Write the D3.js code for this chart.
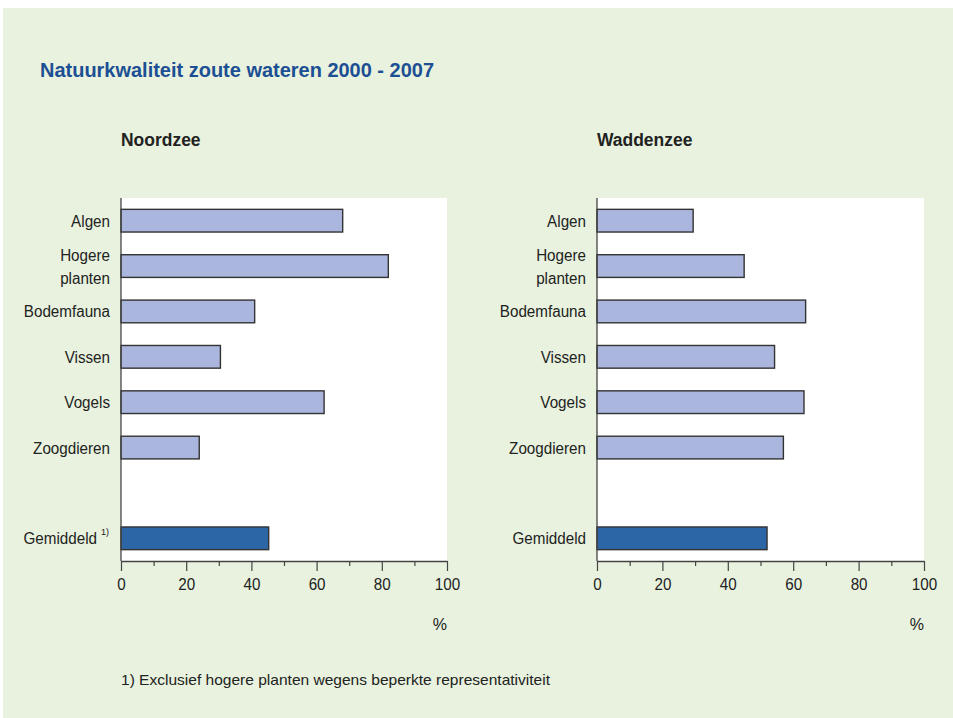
<!DOCTYPE html>
<html>
<head>
<meta charset="utf-8">
<script src="https://cdn.jsdelivr.net/npm/d3@7"></script>
<style>
html,body{margin:0;padding:0;background:#fff;}
svg{display:block;font-family:"Liberation Sans",Arial,sans-serif;}
</style>
</head>
<body>
<svg id="chart" width="953" height="718"></svg>
<script>
const title = "Natuurkwaliteit zoute wateren 2000 - 2007";
const categories = ["Algen", "Hogere planten", "Bodemfauna", "Vissen", "Vogels", "Zoogdieren", "", "Gemiddeld"];
const panelNames = ["Noordzee", "Waddenzee"];
const noordzee = [68, 82, 41, 30.5, 62.3, 24, null, 45.3];
const waddenzee = [29.4, 45, 63.8, 54.3, 63.3, 57, null, 52];
const xTicks = [0, 20, 40, 60, 80, 100];
const minorTicks = [10, 30, 50, 70, 90];
const footnote = "1) Exclusief hogere planten wegens beperkte representativiteit";

const svg = d3.select("#chart");
svg.append("rect").attr("x", 3).attr("y", 8).attr("width", 950).attr("height", 710).attr("fill", "#e8f2de");

svg.append("text").attr("x", 40).attr("y", 77).attr("fill", "#1c4f93")
  .attr("font-size", 20).attr("font-weight", "bold")
  .attr("textLength", 394).attr("lengthAdjust", "spacingAndGlyphs").text(title);

function condense(sel, f) {
  sel.each(function() {
    const len = this.getComputedTextLength();
    if (len > 0) d3.select(this).attr("textLength", len * f).attr("lengthAdjust", "spacingAndGlyphs");
  });
}

const panels = [
  {name: panelNames[0], values: noordzee, x0: 121, x1: 447, sup: true},
  {name: panelNames[1], values: waddenzee, x0: 597, x1: 924, sup: false}
];
const plotTop = 198, plotBottom = 561;

panels.forEach(p => {
  const g = svg.append("g");
  const x = d3.scaleLinear().domain([0, 100]).range([p.x0, p.x1]);
  const y = d3.scaleBand().domain(categories.map((c, i) => i)).range([plotTop, plotBottom]).paddingInner(0.5).paddingOuter(0.25);

  g.append("rect").attr("x", x(0)).attr("y", plotTop).attr("width", x(100) - x(0)).attr("height", plotBottom - plotTop).attr("fill", "#fff");

  g.append("text").attr("x", x(0)).attr("y", 146).attr("font-size", 18).attr("font-weight", "bold")
    .attr("fill", "#222").text(p.name).call(condense, 0.97);

  categories.forEach((c, i) => {
    const v = p.values[i];
    if (v == null) return;
    g.append("rect").attr("x", x(0)).attr("y", y(i)).attr("width", x(v) - x(0)).attr("height", y.bandwidth())
      .attr("fill", c === "Gemiddeld" ? "#2d66a6" : "#abb6de")
      .attr("stroke", "#333").attr("stroke-width", 1.4);
    const cy = y(i) + y.bandwidth() / 2;
    const lx = x(0) - 11;
    if (c === "Hogere planten") {
      const t1 = g.append("text").attr("x", lx).attr("y", cy - 5).attr("text-anchor", "end").attr("font-size", 16).attr("fill", "#222").text("Hogere");
      const t2 = g.append("text").attr("x", lx).attr("y", cy + 18).attr("text-anchor", "end").attr("font-size", 16).attr("fill", "#222").text("planten");
      condense(t1, 0.95); condense(t2, 0.95);
    } else if (c === "Gemiddeld" && p.sup) {
      g.append("text").attr("x", lx - 13).attr("y", cy + 6).attr("text-anchor", "end").attr("font-size", 16).attr("fill", "#222").text(c).call(condense, 0.95);
      g.append("text").attr("x", lx - 1).attr("y", cy - 3).attr("text-anchor", "end").attr("font-size", 9).attr("fill", "#222").text("1)");
    } else {
      g.append("text").attr("x", lx).attr("y", cy + 6).attr("text-anchor", "end").attr("font-size", 16).attr("fill", "#222").text(c).call(condense, 0.95);
    }
  });

  g.append("line").attr("x1", x(0)).attr("x2", x(0)).attr("y1", plotTop).attr("y2", plotBottom).attr("stroke", "#444").attr("stroke-width", 1.3);

  const ax = g.append("g").attr("transform", `translate(0,${plotBottom})`)
    .call(d3.axisBottom(x).tickValues(xTicks).tickSize(10).tickSizeOuter(0).tickPadding(8).tickFormat(d3.format("d")));
  ax.select(".domain").attr("stroke", "#444").attr("stroke-width", 1.3);
  ax.selectAll(".tick line").attr("stroke", "#444").attr("stroke-width", 1.2);
  ax.selectAll(".tick text").attr("font-size", 16).attr("fill", "#222").attr("font-family", "Liberation Sans, Arial, sans-serif").call(condense, 0.95);
  const mg = g.append("g").attr("transform", `translate(0,${plotBottom})`)
    .call(d3.axisBottom(x).tickValues(minorTicks).tickSize(5).tickFormat(""));
  mg.select(".domain").remove();
  mg.selectAll(".tick line").attr("stroke", "#444").attr("stroke-width", 1.2);

  g.append("text").attr("x", x(100)).attr("y", 630).attr("text-anchor", "end").attr("font-size", 16).attr("fill", "#222").text("%");
});

svg.append("text").attr("x", 121).attr("y", 685).attr("font-size", 15).attr("fill", "#222")
  .attr("textLength", 429).attr("lengthAdjust", "spacingAndGlyphs").text(footnote);
</script>
</body>
</html>
